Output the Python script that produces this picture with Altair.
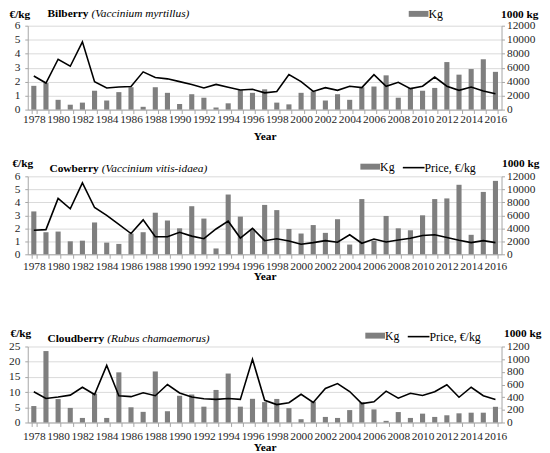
import altair as alt
import pandas as pd

years = list(range(1978, 2017))

bil_kg = [3400, 3800, 1400, 700, 1000, 2700, 1300, 2500, 3200, 400,
          3200, 2400, 800, 2200, 1700, 300, 900, 2800, 2400, 2900,
          1000, 750, 2400, 2600, 1300, 2200, 1400, 3200, 3300, 4900,
          1700, 3100, 2700, 3100, 6800, 5000, 5800, 7200, 5400]
bil_price = [2.4, 1.9, 3.6, 3.1, 4.85, 2.0, 1.55, 1.62, 1.65, 2.7,
             2.3, 2.2, 2.0, 1.8, 1.55, 1.8, 1.6, 1.4, 1.45, 1.2,
             1.3, 2.5, 2.0, 1.3, 1.57, 1.38, 1.67, 1.57, 2.5, 1.67,
             1.95, 1.5, 1.67, 2.33, 1.67, 1.38, 1.62, 1.33, 1.14]

cow_kg = [6600, 3400, 3500, 2000, 2100, 4900, 1800, 1600, 3200, 3400,
          6400, 5200, 4000, 7400, 5500, 900, 9200, 5800, 3900, 7600,
          6800, 3900, 3200, 4500, 3300, 5400, 1500, 8500, 2100, 5900,
          4000, 3700, 6000, 8500, 8600, 10700, 3000, 9600, 11300]
cow_price = [1.85, 1.9, 4.3, 3.5, 5.5, 3.6, 3.0, 2.3, 1.6, 2.65,
             1.35, 1.35, 1.7, 1.4, 1.2, 1.95, 2.55, 1.25, 2.0, 1.05,
             1.2, 1.03, 0.78, 0.9, 1.05, 0.93, 1.5, 0.85, 1.18, 0.95,
             1.1, 1.23, 1.45, 1.5, 1.3, 1.08, 0.9, 1.05, 0.9]

cloud_kg = [260, 1128, 370, 230, 72, 456, 72, 792, 240, 168,
            806, 178, 422, 442, 250, 514, 773, 250, 374, 322,
            372, 227, 52, 330, 88, 72, 196, 320, 207, 26,
            165, 72, 140, 88, 114, 145, 155, 155, 248]
cloud_price = [10.1, 7.9, 8.4, 9.0, 11.6, 9.2, 18.8, 8.8, 8.5, 9.8,
               8.8, 12.5, 9.7, 8.4, 7.8, 7.6, 7.9, 7.6, 20.8, 7.3,
               5.9, 6.5, 9.3, 6.6, 11.2, 12.8, 10.2, 6.2, 6.8, 10.3,
               8.0, 9.6, 8.9, 10.1, 12.4, 8.3, 11.6, 8.8, 7.6]

FONT = "Liberation Serif"
BAR = "#7f7f7f"
W = 480


def panel(kg, price, kg_max, kg_step, p_max, p_step, name, latin, h,
          name_x, latin_x, title_y, eur_x, eur_y, kgt_x, kgt_y,
          kg_leg, price_leg, leg_y, lab_pad, year_y):
    bars_df = pd.DataFrame({"year": years, "kg": kg, "s": "Kg"})
    line_df = pd.DataFrame({"year": years, "price": price, "s": "Price, €/kg"})
    xscale = alt.Scale(paddingInner=0.58, paddingOuter=0.29)
    xaxis = alt.Axis(title="Year", labelAngle=0,
                     labelExpr="datum.value % 2 == 0 ? datum.label : ''",
                     labelOverlap=False, tickBand="extent", tickSize=4,
                     labelPadding=lab_pad, titleY=year_y, titleBaseline="middle",
                     titleFontWeight="bold", titleFontSize=11.5, labelFontSize=11.5,
                     grid=False)
    leg_common = dict(title=None, orient="none", labelFont=FONT, labelFontSize=12,
                      labelColor="black", padding=0, symbolSize=144)
    bars = alt.Chart(bars_df).mark_bar(color=BAR).encode(
        x=alt.X("year:O", scale=xscale, axis=xaxis),
        y=alt.Y("kg:Q", scale=alt.Scale(domain=[0, kg_max], nice=False),
                axis=alt.Axis(orient="right", values=list(range(0, kg_max + 1, kg_step)),
                              format="d", grid=False, title="1000 kg", titleAngle=0,
                              titleAlign="left", titleBaseline="middle",
                              titleX=kgt_x, titleY=kgt_y, titleFontWeight="bold",
                              tickSize=3, labelPadding=2)),
        color=alt.Color("s:N", scale=alt.Scale(domain=["Kg"], range=[BAR]),
                        legend=alt.Legend(legendX=kg_leg, legendY=leg_y,
                                          symbolType="M-1.667,-0.5H1.667V0.5H-1.667Z",
                                          symbolStrokeWidth=0, **leg_common)),
    )
    if price_leg is None:
        price_legend = None
    else:
        price_legend = alt.Legend(legendX=price_leg, legendY=leg_y,
                                  symbolType="M-1.833,0H1.833",
                                  symbolStrokeWidth=1.6, **leg_common)
    line = alt.Chart(line_df).mark_line(strokeWidth=1.6).encode(
        x=alt.X("year:O", scale=xscale, axis=xaxis),
        y=alt.Y("price:Q", scale=alt.Scale(domain=[0, p_max], nice=False),
                axis=alt.Axis(orient="left", values=list(range(0, p_max + 1, p_step)),
                              grid=True, title="€/kg", titleAngle=0,
                              titleAlign="left", titleBaseline="middle",
                              titleX=eur_x, titleY=eur_y, titleFontWeight="bold",
                              tickSize=3, labelPadding=5)),
        color=alt.Color("s:N", scale=alt.Scale(domain=["Price, €/kg"], range=["black"]),
                        legend=price_legend),
    )
    t1 = alt.Chart(pd.DataFrame({"t": [name]})).mark_text(
        align="left", baseline="middle", font=FONT, fontWeight="bold",
        fontSize=11.5, color="black").encode(
        text="t:N", x=alt.value(name_x), y=alt.value(title_y))
    t2 = alt.Chart(pd.DataFrame({"t": [latin]})).mark_text(
        align="left", baseline="middle", font=FONT, fontStyle="italic",
        fontSize=11.5, color="black").encode(
        text="t:N", x=alt.value(latin_x), y=alt.value(title_y))
    return alt.layer(bars, line, t1, t2).resolve_scale(
        y="independent", color="independent").properties(width=W, height=h)


p1 = panel(bil_kg, bil_price, 12000, 2000, 6, 1, "Bilberry", "(Vaccinium myrtillus)", 85,
           20, 64.5, -11.5, -19, -11.5, -1, -11.5, 390, None, -18, 0, 27)
p2 = panel(cow_kg, cow_price, 12000, 2000, 6, 1, "Cowberry", "(Vaccinium vitis-idaea)", 79,
           22, 75, -7, -16, -12.6, 0, -13.3, 341, 384, -15.8, 2, 23)
p3 = panel(cloud_kg, cloud_price, 1200, 200, 25, 5, "Cloudberry", "(Rubus chamaemorus)", 77,
           20, 80.5, -8, -18, -13.3, 2, -13, 346, 389, -17, 4, 25)

chart = alt.vconcat(
    alt.vconcat(p1, p2, spacing=67.6, bounds="flush"),
    p3, spacing=44
).properties(
    padding={"top": -3, "left": 0, "right": 0, "bottom": 0}
).configure_view(stroke=None).configure_axis(
    labelFont=FONT, labelFontSize=11.5, labelColor="#262626",
    titleFont=FONT, titleFontSize=11.5, titleColor="black",
    domainColor="#a6a6a6", tickColor="#a6a6a6", gridColor="#d9d9d9"
)

chart.save("out.html", embed_options={"renderer": "svg", "actions": False})
